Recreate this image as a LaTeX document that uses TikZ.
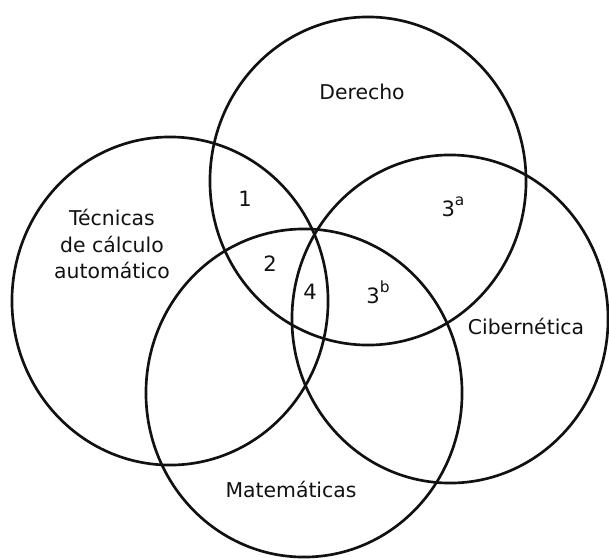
\documentclass[tikz,border=0pt]{standalone}
\usepackage{fontspec}
\setmainfont{DejaVu Sans}
\usepackage{xcolor}
\usetikzlibrary{shapes.geometric}
\definecolor{ink}{HTML}{111111}
\newcommand{\supmark}[1]{\raisebox{0.5em}{\fontsize{11}{11}\selectfont #1}}

\begin{document}
\begin{tikzpicture}[
    x=0.025cm, y=-0.025cm,
    setring/.style={draw=ink,ellipse,line width=1.9pt,inner sep=0pt,minimum width=7.9cm,minimum height=8.2cm},
    setname/.style={text=ink,align=center,font=\fontsize{14.5}{19}\selectfont},
    zone/.style={text=ink,inner sep=1pt,font=\fontsize{15}{17}\selectfont}
]
    \useasboundingbox (0,0) rectangle (609,559);

    % the four fields
    \node[setring] (der) at (368,181) {};
    \node[setring] (tec) at (170,301) {};
    \node[setring] (cib) at (450,319) {};
    \node[setring] (mat) at (304,393) {};

    % names of the fields
    \node[setname] (derl) at (362,92) {Derecho};
    \node[setname] (tecl) at (112,244) {Técnicas\\de cálculo\\automático};
    \node[setname] (cibl) at (526,326) {Cibernética};
    \node[setname] (matl) at (291,489) {Matemáticas};

    % overlaps
    \node[zone] (z1) at (245,199) {1};
    \node[zone] (z2) at (270,264) {2};
    \node[zone] (z4) at (310,292) {4};
    \node[zone] (z3a) at (453,207) {3\supmark{a}};
    \node[zone] (z3b) at (378,292) {3\supmark{b}};
\end{tikzpicture}
\end{document}
